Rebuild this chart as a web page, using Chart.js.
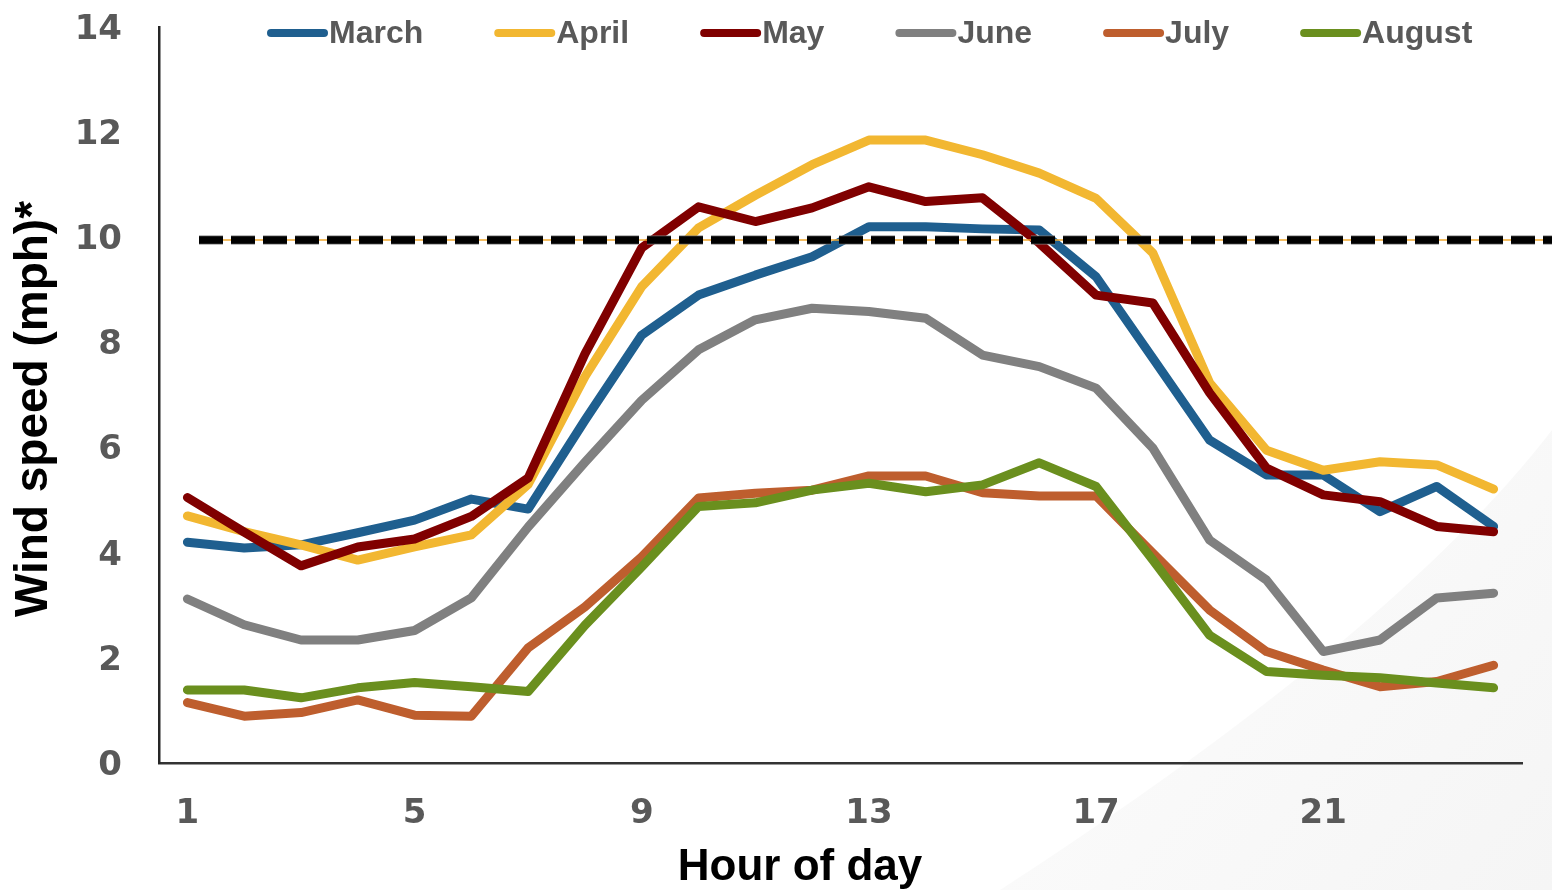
<!DOCTYPE html>
<html>
<head>
<meta charset="utf-8">
<title>Hourly wind speed by month</title>
<script src="https://cdn.jsdelivr.net/npm/chart.js@4.4.1/dist/chart.umd.min.js"></script>
<style>
  html, body { margin: 0; padding: 0; background: #ffffff; }
  #wrap { width: 1552px; height: 890px; position: relative; }
  canvas { display: block; }
</style>
</head>
<body>
<div id="wrap"><canvas id="chart" width="1552" height="890"></canvas></div>
<script>
// Hour of day (categories) and the labelled ticks on the x axis
const hours = ['1','2','3','4','5','6','7','8','9','10','11','12','13','14','15','16','17','18','19','20','21','22','23','24'];
const xTickLabels = ['1','5','9','13','17','21'];

// Average wind speed (mph) for each hour, per month
const march  = [4.20, 4.09, 4.15, 4.38, 4.62, 5.02, 4.83, 6.52, 8.14, 8.90, 9.28, 9.63, 10.20, 10.20, 10.16, 10.14, 9.25, 7.70, 6.14, 5.48, 5.48, 4.78, 5.26, 4.50];
const april  = [4.70, 4.40, 4.15, 3.86, 4.11, 4.34, 5.30, 7.35, 9.06, 10.18, 10.80, 11.38, 11.85, 11.85, 11.57, 11.22, 10.74, 9.70, 7.23, 5.95, 5.57, 5.73, 5.67, 5.21];
const may    = [5.05, 4.39, 3.75, 4.11, 4.26, 4.69, 5.42, 7.78, 9.80, 10.58, 10.30, 10.56, 10.96, 10.68, 10.75, 9.89, 8.90, 8.75, 7.04, 5.61, 5.10, 4.97, 4.50, 4.40];
const june   = [3.12, 2.63, 2.34, 2.34, 2.52, 3.14, 4.49, 5.72, 6.90, 7.86, 8.43, 8.65, 8.59, 8.46, 7.76, 7.54, 7.13, 5.99, 4.24, 3.48, 2.12, 2.34, 3.14, 3.23];
const july   = [1.15, 0.89, 0.96, 1.20, 0.91, 0.89, 2.19, 2.97, 3.92, 5.04, 5.13, 5.19, 5.46, 5.46, 5.14, 5.08, 5.08, 3.99, 2.91, 2.12, 1.77, 1.45, 1.55, 1.86];
const august = [1.39, 1.39, 1.24, 1.43, 1.53, 1.45, 1.36, 2.62, 3.73, 4.88, 4.95, 5.19, 5.32, 5.16, 5.29, 5.71, 5.26, 3.86, 2.43, 1.74, 1.67, 1.62, 1.52, 1.43];

const seriesNames  = ['March', 'April', 'May', 'June', 'July', 'August'];
const seriesValues = [march, april, may, june, july, august];
const seriesColors = ['#1f5f8f', '#f2b731', '#800000', '#808080', '#be5e2e', '#6a8f1e'];

// Reference wind speed marked with the dashed line
const threshold = 9.95;

const tickFont  = { family: '"DejaVu Sans", Verdana, sans-serif', weight: 'bold', size: 34 };
const titleFont = '"Liberation Sans", Arial, sans-serif';

// Faint diagonal sweep in the lower-right corner of the page
const backdrop = {
  id: 'backdrop',
  beforeDraw(chart) {
    const { ctx, width, height } = chart;
    ctx.save();
    ctx.fillStyle = '#ffffff';
    ctx.fillRect(0, 0, width, height);
    const g = ctx.createLinearGradient(1150, 560, 1552, 890);
    g.addColorStop(0, '#fbfbfb');
    g.addColorStop(1, '#f5f5f5');
    ctx.beginPath();
    ctx.moveTo(1000, height);
    ctx.quadraticCurveTo(1396, 633, width, 430);
    ctx.lineTo(width, height);
    ctx.closePath();
    ctx.fillStyle = g;
    ctx.fill();
    ctx.restore();
  }
};

// Dashed reference line across the plot
const thresholdLine = {
  id: 'thresholdLine',
  afterDatasetsDraw(chart) {
    const { ctx, scales } = chart;
    const y = scales.y.getPixelForValue(threshold);
    const x0 = chart.chartArea.left + 40;
    const x1 = chart.width;
    ctx.save();
    ctx.beginPath();
    ctx.moveTo(x0, y);
    ctx.lineTo(x1, y);
    ctx.strokeStyle = '#f0a830';
    ctx.lineWidth = 1.5;
    ctx.stroke();
    ctx.setLineDash([24, 8]);
    ctx.lineCap = 'butt';
    ctx.strokeStyle = '#7a7a7a';
    ctx.lineWidth = 9;
    ctx.stroke();
    ctx.strokeStyle = '#000000';
    ctx.lineWidth = 7.5;
    ctx.stroke();
    ctx.restore();
  }
};

// Legend row (line sample followed directly by its label) and the axis titles
const annotations = {
  id: 'annotations',
  afterDraw(chart) {
    const { ctx, chartArea } = chart;
    ctx.save();
    // legend
    ctx.font = 'bold 32px ' + titleFont;
    ctx.textBaseline = 'alphabetic';
    ctx.textAlign = 'left';
    let x = chartArea.left + 108;
    const lineY = 33;
    chart.data.datasets.forEach((ds) => {
      ctx.beginPath();
      ctx.moveTo(x + 4, lineY);
      ctx.lineTo(x + 57, lineY);
      ctx.strokeStyle = ds.borderColor;
      ctx.lineWidth = 8;
      ctx.lineCap = 'round';
      ctx.stroke();
      ctx.fillStyle = '#595959';
      ctx.fillText(ds.label, x + 62, 43);
      x += 62 + ctx.measureText(ds.label).width + 71;
    });
    // x-axis title
    ctx.fillStyle = '#000000';
    ctx.textAlign = 'center';
    ctx.font = 'bold 44px ' + titleFont;
    ctx.fillText('Hour of day', chartArea.left + 641, chart.height - 10);
    // y-axis title
    ctx.font = 'bold 46px ' + titleFont;
    ctx.textBaseline = 'middle';
    ctx.translate(34, (chartArea.top + chartArea.bottom) / 2 + 14);
    ctx.rotate(-Math.PI / 2);
    ctx.fillText('Wind speed (mph)*', 0, 0);
    ctx.restore();
  }
};

const datasets = seriesNames.map((name, i) => ({
  label: name,
  data: seriesValues[i],
  borderColor: seriesColors[i],
  backgroundColor: seriesColors[i],
  borderWidth: 9,
  borderCapStyle: 'round',
  borderJoinStyle: 'round',
  pointRadius: 0,
  tension: 0,
  fill: false,
  order: seriesNames.length - i
}));

new Chart(document.getElementById('chart'), {
  type: 'line',
  data: { labels: hours, datasets },
  plugins: [backdrop, thresholdLine, annotations],
  options: {
    responsive: false,
    animation: false,
    layout: { padding: { top: 27, right: 30, bottom: 0, left: 0 } },
    plugins: { legend: { display: false }, tooltip: { enabled: false } },
    scales: {
      x: {
        type: 'category',
        offset: true,
        grid: { display: false, drawTicks: false },
        border: { display: true, color: '#333333', width: 2.5 },
        ticks: {
          autoSkip: false,
          maxRotation: 0,
          padding: 31,
          color: '#595959',
          font: tickFont,
          callback(value) {
            const label = this.getLabelForValue(value);
            return xTickLabels.includes(label) ? label : null;
          }
        },
        title: { display: false },
        afterFit(scale) { scale.height = 127; scale.paddingLeft = 0; scale.paddingRight = 0; }
      },
      y: {
        min: 0,
        max: 14,
        grid: { display: false, drawTicks: false },
        border: { display: true, color: '#262626', width: 2.5 },
        ticks: {
          stepSize: 2,
          padding: 37,
          labelOffset: 3,
          color: '#595959',
          font: tickFont
        },
        title: { display: false },
        afterFit(scale) { scale.width = 159; scale.paddingTop = 0; scale.paddingBottom = 0; }
      }
    }
  }
});
</script>
</body>
</html>
